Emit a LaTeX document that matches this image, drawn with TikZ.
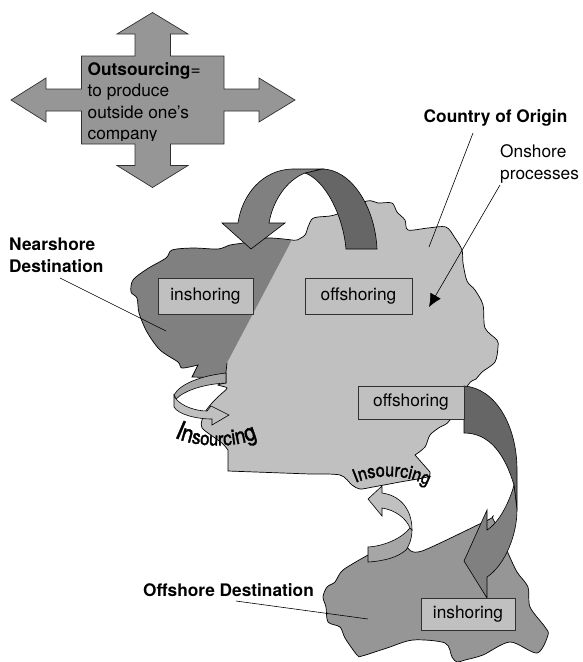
\documentclass[tikz,border=0pt]{standalone}
\usepackage{fontspec}
\setmainfont{TeX Gyre Heros}
\newfontfamily\warpfont[FakeBold=1.6,FakeStretch=.87]{TeX Gyre Heros}
\newcommand{\warpsize}[1]{\warpfont\fontsize{#1}{#1}\selectfont}
\usetikzlibrary{arrows.meta,decorations.text}
\definecolor{clight}{HTML}{C0C0C0}
\definecolor{cmid}{HTML}{969696}
\definecolor{cnear}{HTML}{808080}
\definecolor{cdark}{HTML}{666666}
\definecolor{cring}{HTML}{A6A6A6}
\definecolor{cedge}{HTML}{303030}
\begin{document}
\begin{tikzpicture}[x=1pt,y=-1pt,>=Latex,
  land/.style={line width=.7pt,draw=black},
  band/.style={line width=.6pt,draw=black},
  procbox/.style={draw=cedge,line width=.8pt,fill=clight,minimum height=#1,inner sep=0pt},
  procbox/.default=36pt,
  tag/.style={anchor=base west,inner sep=0pt,align=left,
              font=\fontsize{17.3}{21.3}\selectfont},
  leader/.style={line width=.6pt},
  warp/.style={decorate,decoration={text along path,text align=center,text={#1}}}]
\useasboundingbox (0,0) rectangle (583,662);
% outsourcing cross
\path[draw=cedge,line width=.7pt,fill=cmid] (152.5,12.5) -- (188,34) -- (170.5,34) -- (170.5,56) -- (224,56)
  -- (224,89) -- (259,89) -- (259,78) -- (295,100) -- (259,122) -- (259,111) -- (224,111) -- (224,144)
  -- (170.5,144) -- (170.5,165.5) -- (188,165.5) -- (152.5,187.5) -- (117,165.5) -- (135,165.5) -- (135,144)
  -- (81.5,144) -- (81.5,111) -- (46,111) -- (46,122) -- (11,100) -- (46,78) -- (46,89) -- (81.5,89)
  -- (81.5,56) -- (135,56) -- (135,34) -- (117,34) -- cycle;
\begin{scope}
  \clip (81,50) rectangle (224,140.5);
  \node[tag,anchor=north west] (outsourcing) at (87.5,62.5) {\textbf{Outsourcing}=\\to produce\\outside one’s\\company};
\end{scope}
% land
\path[land,fill=cnear] plot[smooth,tension=.5] coordinates {(292,240) (267,238) (243,243) (230,245) (218,249)
  (193,248) (172,250) (166,258) (147,269) (133,280) (131,292) (137,298) (139,313) (147,332) (160,350)
  (178,362) (182,368) (198,365)} -- (192,377) -- (226,378);
\path[land,fill=clight] plot[smooth,tension=.5] coordinates {(292,240) (297,240) (305,235) (308,227) (312,219) (318,217)
  (330,216) (340,213) (367,201) (378,203) (392,203) (397,212) (405,220) (408,230) (428,228) (446,227)
  (455,238) (462,250) (463,263) (467,281) (475,290) (483,305) (485,328) (497,340) (498,347) (495,362)
  (482,372) (476,379) (468,385) (450,420) (440,427) (430,435) (425,447) (415,455)} -- (430,472)
  -- plot[smooth,tension=.5] coordinates {(430,472) (427,477) (400,482) (373,487) (360,489) (352,485) (340,475)
  (310,474)} -- (228,471) -- (228,450) -- plot[smooth,tension=.5] coordinates {(228,450) (223,444) (215,438)
  (202,428) (202,420) (205,412) (212,403) (220,395) (227,388) (218,385) (226,383)} -- (226,372) -- (227,363);
\path[land,fill=cmid] plot[smooth,tension=.5] coordinates {(368,555) (343,570) (335,582) (327,587) (323,597) (326,607)
  (328,622) (340,627) (345,638) (357,655) (362,656) (387,648) (413,640) (445,643) (452,657) (457,662)
  (465,660) (483,655) (510,642) (537,653) (548,635) (545,627) (530,607) (528,587) (517,572) (508,553)
  (493,519) (488,520) (422,551) (408,548)} -- cycle;
% arrows
\path[band,fill=cdark] (346,249) -- (377,249) .. controls (375,205) and (350,169) .. (322,169) -- (305,173)
  .. controls (325,180) and (343,215) .. (346,249) -- cycle;
\path[band,fill=cnear] (322,169) -- (292,169) .. controls (262,170) and (242,195) .. (238,223) -- (222,223)
  -- (251,249) -- (285,223) -- (269,223) .. controls (273,200) and (287,180) .. (305,173) -- cycle;
\path[band,fill=cdark] (464,386) .. controls (495,388) and (517,425) .. (517,470) -- (517,510) -- (514,485)
  .. controls (505,455) and (490,433) .. (464,433) -- cycle;
\path[band,fill=cnear] (514,485) -- (517,510) .. controls (517,535) and (505,565) .. (487,577) -- (487,598)
  -- (464,561) -- (487,510) -- (487,530) .. controls (500,522) and (510,500) .. (514,485) -- cycle;
\path[band,fill=cring] (226,373) -- (226,383) .. controls (205,384) and (185,390) .. (176,399) -- (174,395)
  .. controls (180,384) and (200,376) .. (226,373) -- cycle;
\path[band,fill=clight] (174,395) -- (174,407) .. controls (178,414) and (195,419) .. (212,419) -- (212,425)
  -- (229,415) -- (211,406) -- (207,411) .. controls (195,411) and (182,406) .. (176,399) -- cycle;
\path[band,fill=cring] (368,547) .. controls (385,546) and (402,538) .. (410,528) -- (412,530)
  .. controls (412,540) and (408,547) .. (406,550) .. controls (398,557) and (385,561) .. (368,562) -- cycle;
\path[band,fill=clight] (410,528) .. controls (406,518) and (395,510) .. (382,508) -- (382,516) -- (368,499)
  -- (382,486) -- (382,493) .. controls (398,495) and (412,507) .. (412,530) -- cycle;
% boxes
\node[procbox,minimum width=95pt] (inshorenear) at (205.5,296) {};
\node[procbox,minimum width=107pt] (offshorenear) at (358.5,296) {};
\node[procbox=33pt,minimum width=106pt] (offshorefar) at (411,402.5) {};
\node[procbox=32pt,minimum width=94pt] (inshorefar) at (468,614) {};
\node[font=\fontsize{17.3}{21}\selectfont] at (inshorenear) {inshoring};
\node[font=\fontsize{17.3}{21}\selectfont] at (offshorenear) {offshoring};
\node[font=\fontsize{17.3}{21}\selectfont] at (offshorefar) {offshoring};
\node[font=\fontsize{17.3}{21}\selectfont] at (inshorefar) {inshoring};
% labels
\node[tag] (origin) at (423.5,122) {\textbf{Country of Origin}};
\node[tag] (onshore) at (500,179) {Onshore\\processes};
\node[tag] (nearshore) at (9,272) {\textbf{Nearshore}\\\textbf{Destination}};
\node[tag] (offshore) at (143,596) {\textbf{Offshore Destination}};
\coordinate (originfrom) at (473,133);
\coordinate (originto) at (429,247);
\coordinate (onshorefrom) at (500,185);
\coordinate (onshoreto) at (429,307);
\coordinate (nearfrom) at (60,278);
\coordinate (nearto) at (166,331);
\coordinate (offfrom) at (236,601);
\coordinate (offto) at (368,619);
\draw[leader] (originfrom) -- (originto);
\draw[leader,-{Latex[length=13pt,width=12pt]}] (onshorefrom) -- (onshoreto);
\draw[leader] (nearfrom) -- (nearto);
\draw[leader] (offfrom) -- (offto);
% warped labels
\path[warp={|\warpsize{26}|I|\warpsize{24}|n|\warpsize{20}|s|\warpsize{19}|our|\warpsize{20}|c|\warpsize{21}|i|\warpsize{22}|n|\warpsize{24}|g}]
  (172,436) .. controls (190,447) and (235,450) .. (260,437);
\path[warp={|\warpsize{18.5}|Insourcing}] (351,485) .. controls (372,474) and (405,472) .. (432,488);
\end{tikzpicture}
\end{document}
